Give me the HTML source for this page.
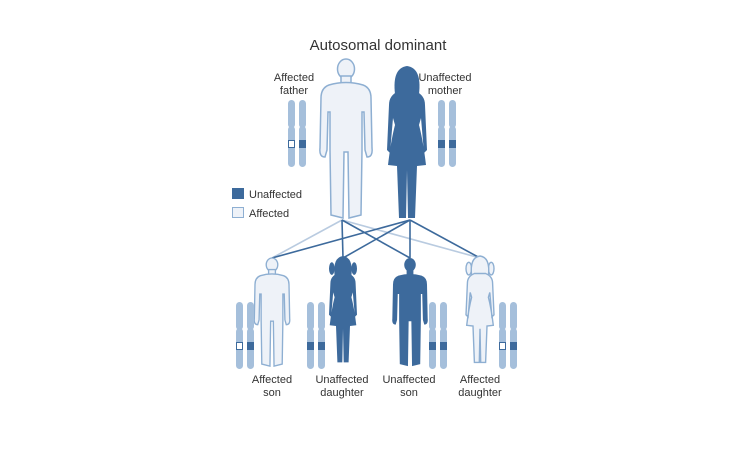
<!DOCTYPE html>
<html><head><meta charset="utf-8"><style>
html,body{margin:0;padding:0;background:#fff;}
svg{display:block;}
text{font-family:"Liberation Sans",sans-serif;fill:#333;}
</style></head><body>
<svg width="750" height="451" viewBox="0 0 750 451" xmlns="http://www.w3.org/2000/svg">
<defs>
<g id="man">
<ellipse cx="346" cy="69" rx="8.5" ry="10"/>
<path d="M341,76 L351,76 L351,84 L341,84Z"/>
<path d="M329,85 Q346,80 363,85 Q371,88 371,98 L372,148 Q373,157 367,157 L365,150 L364,112 L362,112 L362,150 L361,215 L349,218 L348,152 L344,152 L343,218 L331,215 L330,150 L330,112 L328,112 L327,150 L325,157 Q319,157 320,148 L321,98 Q321,88 329,85 Z"/>
</g>
<g id="woman">
<path d="M395,94 Q392,68 407,66 Q422,68 419,94 Z"/>
<path d="M399,91 L415,91 Q425,95 425,105 L427,150 L424,153 L421,118 L419,125 Q423,140 426,165 L417,166 L415,218 L408,218 L407,170 L406,218 L399,218 L397,166 L388,165 Q391,140 395,125 L393,118 L390,153 L387,150 L389,105 Q389,95 399,91Z"/>
</g>
<g id="chr">
<rect x="0" y="0" width="7" height="28" rx="3.5"/>
<rect x="0" y="26" width="7" height="41" rx="3.5"/>
<rect x="11" y="0" width="7" height="28" rx="3.5"/>
<rect x="11" y="26" width="7" height="41" rx="3.5"/>
</g>
</defs>
<text x="378" y="50" font-size="15" text-anchor="middle">Autosomal dominant</text>
<g font-size="11" text-anchor="middle">
<text x="294" y="81">Affected</text><text x="294" y="94">father</text>
<text x="445" y="81">Unaffected</text><text x="445" y="94">mother</text>
</g>
<g stroke-width="1.6" fill="none">
<line x1="342" y1="220" x2="272" y2="258" stroke="#b9cbe0"/>
<line x1="342" y1="220" x2="480" y2="258" stroke="#b9cbe0"/>
<line x1="342" y1="220" x2="343" y2="258" stroke="#3d6a9c"/>
<line x1="342" y1="220" x2="410" y2="258" stroke="#3d6a9c"/>
<line x1="410" y1="220" x2="272" y2="258" stroke="#3d6a9c"/>
<line x1="410" y1="220" x2="343" y2="258" stroke="#3d6a9c"/>
<line x1="410" y1="220" x2="410" y2="258" stroke="#3d6a9c"/>
<line x1="410" y1="220" x2="480" y2="258" stroke="#3d6a9c"/>
</g>
<use href="#man" fill="#eef2f8" stroke="#8eafd2" stroke-width="1.5"/>
<use href="#woman" fill="#3d6a9c"/>
<g transform="translate(272,258) scale(0.68) translate(-346,-59)"><use href="#man" fill="#eef2f8" stroke="#8eafd2" stroke-width="2"/></g>
<g transform="translate(410,258) scale(0.68) translate(-346,-59)"><use href="#man" fill="#3d6a9c"/></g>
<g transform="translate(343,256) scale(0.7) translate(-407,-66)">
<ellipse cx="391" cy="84" rx="4" ry="9" fill="#3d6a9c"/><ellipse cx="423" cy="84" rx="4" ry="9" fill="#3d6a9c"/>
<use href="#woman" fill="#3d6a9c"/></g>
<g transform="translate(480,256) scale(0.7) translate(-407,-66)">
<ellipse cx="391" cy="84" rx="4" ry="9" fill="#eef2f8" stroke="#8eafd2" stroke-width="2"/><ellipse cx="423" cy="84" rx="4" ry="9" fill="#eef2f8" stroke="#8eafd2" stroke-width="2"/>
<use href="#woman" fill="#eef2f8" stroke="#8eafd2" stroke-width="2"/></g>
<g fill="#a5bfdb">
<use href="#chr" x="288" y="100"/>
<use href="#chr" x="438" y="100"/>
<use href="#chr" x="236" y="302"/>
<use href="#chr" x="307" y="302"/>
<use href="#chr" x="429" y="302"/>
<use href="#chr" x="499" y="302"/>
</g>
<g fill="#3d6a9c">
<rect x="299" y="140" width="7" height="8"/>
<rect x="438" y="140" width="7" height="8"/><rect x="449" y="140" width="7" height="8"/>
<rect x="247" y="342" width="7" height="8"/>
<rect x="307" y="342" width="7" height="8"/><rect x="318" y="342" width="7" height="8"/>
<rect x="429" y="342" width="7" height="8"/><rect x="440" y="342" width="7" height="8"/>
<rect x="510" y="342" width="7" height="8"/>
</g>
<g fill="#fff" stroke="#3d6a9c" stroke-width="1">
<rect x="288.5" y="140.5" width="6" height="7"/>
<rect x="236.5" y="342.5" width="6" height="7"/>
<rect x="499.5" y="342.5" width="6" height="7"/>
</g>
<rect x="232" y="188" width="12" height="11" fill="#3d6a9c"/>
<rect x="232.5" y="207.5" width="11" height="10" fill="#eef2f8" stroke="#8eafd2"/>
<text x="249" y="198" font-size="11">Unaffected</text>
<text x="249" y="217" font-size="11">Affected</text>
<g font-size="11" text-anchor="middle">
<text x="272" y="383">Affected</text><text x="272" y="396">son</text>
<text x="342" y="383">Unaffected</text><text x="342" y="396">daughter</text>
<text x="409" y="383">Unaffected</text><text x="409" y="396">son</text>
<text x="480" y="383">Affected</text><text x="480" y="396">daughter</text>
</g>
</svg>
</body></html>
